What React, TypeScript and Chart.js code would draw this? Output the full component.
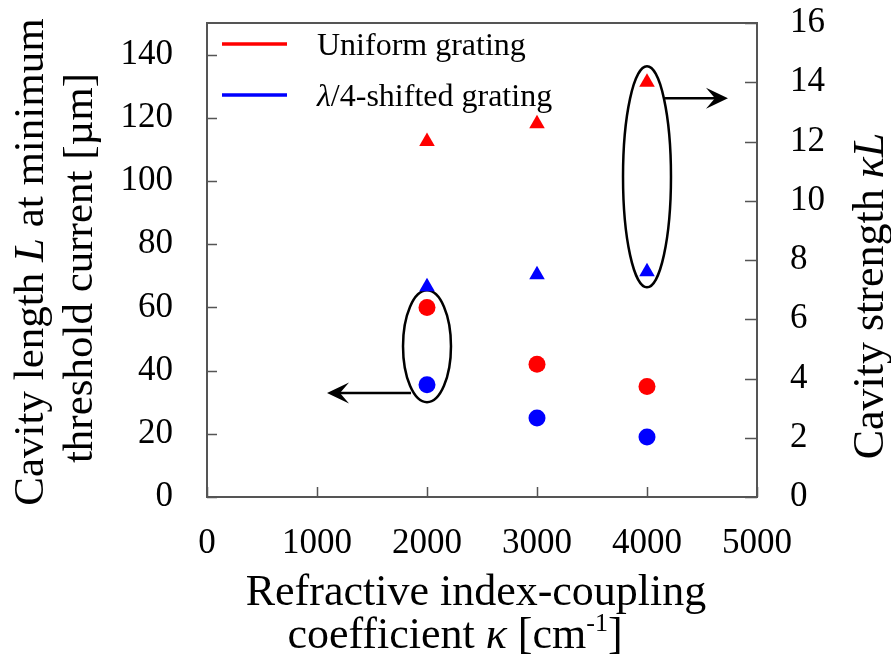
import React, { useEffect, useRef } from 'react';
import { Chart, registerables } from 'chart.js';

Chart.register(...registerables);

// ---- data ----
const kappa = [2000, 3000, 4000];
const uniformL = [60, 42, 35];
const shiftedL = [35.5, 25, 19];
const uniformKL = [12, 12.6, 14];
const shiftedKL = [7.1, 7.5, 7.6];

const xTicks = [0, 1000, 2000, 3000, 4000, 5000];
const leftTicks = [0, 20, 40, 60, 80, 100, 120, 140];
const rightTicks = [0, 2, 4, 6, 8, 10, 12, 14, 16];

const seriesNames = ['Uniform grating', '*λ*/4-shifted grating'];
const seriesColors = ['#ff0000', '#0000ff'];

const xTitle = ['Refractive index-coupling', 'coefficient *κ* [cm^-1^]'];
const leftTitle = ['Cavity length *L* at minimum', 'threshold current [µm]'];
const rightTitle = 'Cavity strength *κL*';

// annotation groups (data space)
const ellipses = [
  { axis: 'y', x: 2000, yc: 47.7, rx: 218, ry: 17.7 },
  { axis: 'y1', x: 4000, yc: 10.81, rx: 218, ry: 3.73 },
];
const arrows = [
  { axis: 'y', y: 32.9, from: 1855, to: 1091 },
  { axis: 'y1', y: 13.46, from: 4164, to: 4736 },
];

const FONT = '"Liberation Serif", "Times New Roman", serif';

type Seg = { text: string; italic: boolean; sup: boolean };

function parseRich(s: string): Seg[] {
  const segs: Seg[] = [];
  let italic = false;
  let sup = false;
  let cur = '';
  for (const ch of s) {
    if (ch === '*' || ch === '^') {
      if (cur) segs.push({ text: cur, italic, sup });
      cur = '';
      if (ch === '*') italic = !italic;
      else sup = !sup;
    } else cur += ch;
  }
  if (cur) segs.push({ text: cur, italic, sup });
  return segs;
}

function segFont(seg: Seg, size: number) {
  const sz = seg.sup ? Math.round(size * 0.6) : size;
  return `${seg.italic ? 'italic ' : ''}${sz}px ${FONT}`;
}

function drawRich(ctx: CanvasRenderingContext2D, s: string, size: number, x: number, y: number, align: 'center' | 'left') {
  const segs = parseRich(s);
  let total = 0;
  const widths = segs.map((seg) => {
    ctx.font = segFont(seg, size);
    const w = ctx.measureText(seg.text).width;
    total += w;
    return w;
  });
  let cx = align === 'center' ? x - total / 2 : x;
  ctx.textAlign = 'left';
  ctx.textBaseline = 'alphabetic';
  segs.forEach((seg, i) => {
    ctx.font = segFont(seg, size);
    ctx.fillText(seg.text, cx, seg.sup ? y - size * 0.38 : y);
    cx += widths[i];
  });
}

function stealthHead(ctx: CanvasRenderingContext2D, tipX: number, tipY: number, dir: number) {
  const len = 22;
  const half = 10.5;
  const notch = 13;
  ctx.beginPath();
  ctx.moveTo(tipX, tipY);
  ctx.lineTo(tipX - dir * len, tipY - half);
  ctx.lineTo(tipX - dir * notch, tipY);
  ctx.lineTo(tipX - dir * len, tipY + half);
  ctx.closePath();
  ctx.fill();
}

const decorPlugin = {
  id: 'decor',
  beforeDatasetsDraw(chart: any) {
    const ctx: CanvasRenderingContext2D = chart.ctx;
    const { left, right, top, bottom } = chart.chartArea;
    const sx = chart.scales.x;
    const sy = chart.scales.y;
    const sy1 = chart.scales.y1;
    ctx.save();
    // frame
    ctx.strokeStyle = '#555555';
    ctx.lineWidth = 2;
    ctx.strokeRect(left, top, right - left, bottom - top);
    // inward ticks
    ctx.beginPath();
    xTicks.forEach((v) => {
      const px = Math.round(sx.getPixelForValue(v)) + 0.5;
      ctx.moveTo(px, bottom);
      ctx.lineTo(px, bottom - 10);
    });
    leftTicks.forEach((v) => {
      const py = Math.round(sy.getPixelForValue(v)) + 0.5;
      ctx.moveTo(left, py);
      ctx.lineTo(left + 10, py);
    });
    rightTicks.forEach((v) => {
      const py = Math.round(sy1.getPixelForValue(v)) + 0.5;
      ctx.moveTo(right, py);
      ctx.lineTo(right - 12, py);
    });
    ctx.lineWidth = 1.5;
    ctx.stroke();

    // annotations
    ctx.strokeStyle = '#000000';
    ctx.fillStyle = '#000000';
    ctx.lineWidth = 2.5;
    ellipses.forEach((e) => {
      const sc = chart.scales[e.axis];
      const cx = sx.getPixelForValue(e.x);
      const cy = sc.getPixelForValue(e.yc);
      const rx = sx.getPixelForValue(e.x + e.rx) - cx;
      const ry = cy - sc.getPixelForValue(e.yc + e.ry);
      ctx.beginPath();
      ctx.ellipse(cx, cy, rx, ry, 0, 0, Math.PI * 2);
      ctx.stroke();
    });
    arrows.forEach((a) => {
      const sc = chart.scales[a.axis];
      const py = sc.getPixelForValue(a.y);
      const x1 = sx.getPixelForValue(a.from);
      const x2 = sx.getPixelForValue(a.to);
      const dir = x2 > x1 ? 1 : -1;
      ctx.beginPath();
      ctx.moveTo(x1, py);
      ctx.lineTo(x2 - dir * 12, py);
      ctx.stroke();
      stealthHead(ctx, x2, py, dir);
    });
    ctx.restore();
  },
  afterDraw(chart: any) {
    const ctx: CanvasRenderingContext2D = chart.ctx;
    ctx.save();
    ctx.fillStyle = '#000000';
    // x title
    drawRich(ctx, xTitle[0], 44, 476, 605, 'center');
    drawRich(ctx, xTitle[1], 44, 455, 648, 'center');
    // left title
    const leftPos = [
      { x: 43, y: 262 },
      { x: 92, y: 268 },
    ];
    leftTitle.forEach((t, i) => {
      ctx.save();
      ctx.translate(leftPos[i].x, leftPos[i].y);
      ctx.rotate(-Math.PI / 2);
      drawRich(ctx, t, 43, 0, 0, 'center');
      ctx.restore();
    });
    // right title
    ctx.save();
    ctx.translate(883, 296);
    ctx.rotate(-Math.PI / 2);
    drawRich(ctx, rightTitle, 44, 0, 0, 'center');
    ctx.restore();

    // legend
    seriesNames.forEach((name, i) => {
      const ly = 44 + i * 51;
      ctx.strokeStyle = seriesColors[i];
      ctx.lineWidth = 3.5;
      ctx.beginPath();
      ctx.moveTo(222, ly);
      ctx.lineTo(287, ly);
      ctx.stroke();
      ctx.fillStyle = '#000000';
      drawRich(ctx, name, 32, 317, ly + 11, 'left');
    });
    ctx.restore();
  },
};

function tickScale(values: number[]) {
  return (scale: any) => {
    scale.ticks = values.map((v) => ({ value: v }));
  };
}

function fixSize(w: number | null, h: number | null) {
  return (s: any) => {
    if (w !== null) s.width = w;
    if (h !== null) s.height = h;
    s.paddingTop = 0;
    s.paddingBottom = 0;
    s.paddingLeft = 0;
    s.paddingRight = 0;
  };
}

export default function App() {
  const canvasRef = useRef<HTMLCanvasElement | null>(null);

  useEffect(() => {
    const canvas = canvasRef.current;
    if (!canvas) return;
    const tickFont = { family: FONT, size: 35 };
    const chart = new Chart(canvas, {
      type: 'scatter',
      data: {
        datasets: [
          {
            label: 'Uniform grating (L)',
            data: kappa.map((k, i) => ({ x: k, y: uniformL[i] })),
            yAxisID: 'y',
            pointStyle: 'circle',
            pointRadius: 8.5,
            backgroundColor: seriesColors[0],
            borderColor: seriesColors[0],
            borderWidth: 0,
          },
          {
            label: 'λ/4-shifted grating (L)',
            data: kappa.map((k, i) => ({ x: k, y: shiftedL[i] })),
            yAxisID: 'y',
            pointStyle: 'circle',
            pointRadius: 8.5,
            backgroundColor: seriesColors[1],
            borderColor: seriesColors[1],
            borderWidth: 0,
          },
          {
            label: 'Uniform grating (κL)',
            data: kappa.map((k, i) => ({ x: k, y: uniformKL[i] })),
            yAxisID: 'y1',
            pointStyle: 'triangle',
            pointRadius: 9,
            backgroundColor: seriesColors[0],
            borderColor: seriesColors[0],
            borderWidth: 0,
          },
          {
            label: 'λ/4-shifted grating (κL)',
            data: kappa.map((k, i) => ({ x: k, y: shiftedKL[i] })),
            yAxisID: 'y1',
            pointStyle: 'triangle',
            pointRadius: 9,
            backgroundColor: seriesColors[1],
            borderColor: seriesColors[1],
            borderWidth: 0,
          },
        ],
      },
      options: {
        responsive: false,
        animation: false,
        devicePixelRatio: 1,
        layout: { padding: { top: 23, left: 0, right: 0, bottom: 0 } },
        plugins: {
          legend: { display: false },
          tooltip: { enabled: false },
        },
        scales: {
          x: {
            type: 'linear',
            min: 0,
            max: 5000,
            afterBuildTicks: tickScale(xTicks),
            afterFit: fixSize(null, 171),
            grid: { display: false, drawTicks: false },
            border: { display: false },
            ticks: {
              font: tickFont,
              color: '#000000',
              padding: 26,
              maxRotation: 0,
              autoSkip: false,
              callback: (v: any) => String(v),
            },
          },
          y: {
            type: 'linear',
            position: 'left',
            min: 0,
            max: 150,
            afterBuildTicks: tickScale(leftTicks),
            afterFit: fixSize(207, null),
            grid: { display: false, drawTicks: false },
            border: { display: false },
            ticks: {
              font: tickFont,
              color: '#000000',
              padding: 34,
              autoSkip: false,
              callback: (v: any) => String(v),
            },
          },
          y1: {
            type: 'linear',
            position: 'right',
            min: 0,
            max: 16,
            afterBuildTicks: tickScale(rightTicks),
            afterFit: fixSize(134, null),
            grid: { display: false, drawTicks: false },
            border: { display: false },
            ticks: {
              font: tickFont,
              color: '#000000',
              padding: 33,
              autoSkip: false,
              callback: (v: any) => String(v),
            },
          },
        },
      },
      plugins: [decorPlugin],
    } as any);
    return () => {
      chart.destroy();
    };
  }, []);

  return (
    <div style={{ position: 'absolute', left: 0, top: 0, width: 891, height: 668, background: '#ffffff' }}>
      <canvas ref={canvasRef} width={891} height={668} style={{ display: 'block', width: 891, height: 668 }} />
    </div>
  );
}
